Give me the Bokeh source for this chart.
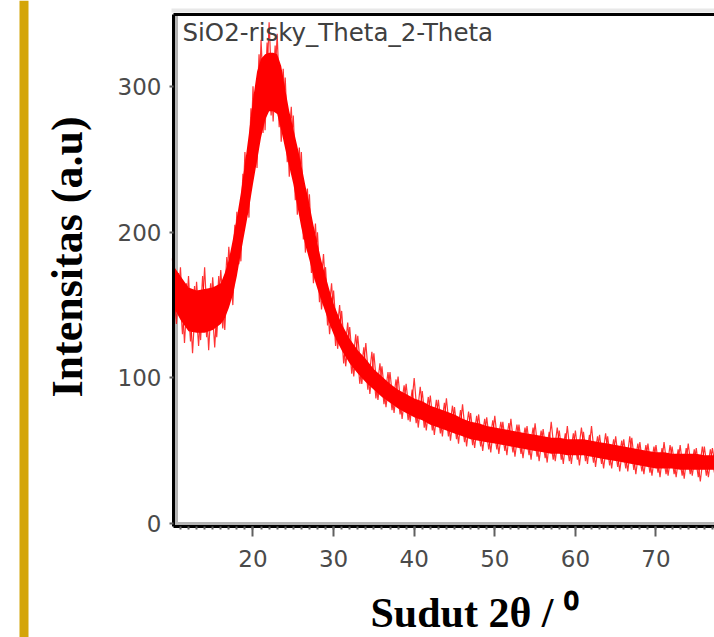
from bokeh.plotting import figure
from bokeh.models import (BoxAnnotation, Label, SingleIntervalTicker, Range1d, LinearAxis,
                          FixedTicker)
from bokeh.embed import file_html
from bokeh.resources import INLINE
import math

# ---- data ----
# solid core of the noisy band (2-theta in degrees, counts)
core_two_theta = [10, 11, 12, 13, 14, 15, 16, 16.5, 17, 17.5, 18, 18.5, 19, 19.5, 20, 20.5, 21,
                  21.5, 22, 22.5, 23, 23.5, 24, 24.5, 25, 25.5, 26, 26.5, 27, 27.5, 28, 28.5,
                  29, 29.5, 30, 31, 32, 33, 34, 35, 36, 37, 38, 39, 40, 41, 42, 43, 44, 45, 46,
                  47, 48, 49, 50, 51, 52, 53, 54, 55, 56, 57, 58, 59, 60, 61, 62, 63, 64, 65,
                  66, 67, 68, 69, 70, 71, 72, 73, 74, 75, 76, 77, 78]
core_lower = [150, 140, 132, 131, 131, 133, 137, 141, 148, 157, 170, 186, 201, 216, 233, 249, 265,
              277, 283, 283, 281, 270, 257, 245, 233, 218, 203, 191, 181, 170, 161, 153,
              145, 137, 130, 119, 110, 103, 97, 92, 87, 83, 79, 76, 73, 71, 68, 66, 64, 62, 60,
              58, 57, 56, 55, 54, 53, 52, 51, 50, 49, 48, 48, 47, 47, 47, 46, 45, 44, 43,
              42, 41, 40, 39, 38, 38, 38, 37, 37, 37, 37, 37, 37]
core_upper = [178, 170, 162, 160, 161, 162, 165, 172, 181, 195, 210, 227, 247, 268, 291, 310, 319,
              322, 323, 323, 322, 314, 298, 283, 271, 259, 246, 232, 219, 205, 192, 180,
              170, 160, 151, 137, 127, 119, 113, 106, 101, 96, 92, 89, 86, 84, 81, 79, 77, 75, 72,
              70, 69, 67, 66, 65, 64, 63, 62, 61, 60, 59, 59, 58, 58, 58, 57, 56, 55, 54,
              53, 52, 51, 50, 49, 49, 48, 48, 48, 48, 47, 47, 47]

# noise spikes of the scan, every 0.5 degree from 10.0 to 77.5
scan_counts_a = [182, 137, 176, 124, 170, 117, 166, 126, 176, 119, 169, 128, 174, 133,   # 10-16.5
                 190, 150, 214, 180, 255, 210, 300, 244, 332, 270, 344, 276, 336, 262,   # 17-23.5
                 306, 238, 280, 212, 255, 186, 226, 165, 200, 147, 176, 130, 160, 120,   # 24-30.5
                 146, 108, 135, 101, 129, 96, 124, 89, 117, 85, 108, 80, 104, 76,        # 31-37.5
                 101, 72, 96, 70, 100, 66, 91, 64, 88, 61, 85, 60, 86, 57,               # 38-44.5
                 80, 55, 82, 53, 76, 52, 75, 50, 73, 49, 74, 48, 70, 47,                 # 45-51.5
                 72, 46, 68, 45, 67, 44, 69, 43, 65, 42, 70, 43, 64, 41,                 # 52-58.5
                 67, 41, 64, 40, 63, 41, 67, 39, 61, 38, 60, 38, 60, 36,                 # 59-65.5
                 58, 36, 59, 34, 56, 34, 55, 33, 54, 32, 56, 33, 53, 32,                 # 66-72.5
                 54, 31, 55, 33, 52, 29, 53, 32, 52, 34]                                 # 73-77.5
scan_two_theta_a = [10 + 0.5 * i for i in range(len(scan_counts_a))]

# noise spikes of the scan, every 0.5 degree from 10.25 to 77.25
scan_counts_b = [140, 172, 130, 165, 125, 163, 122, 170, 128, 165, 121, 170, 134, 183,   # 10.25-16.75
                 155, 205, 178, 240, 212, 285, 250, 322, 268, 330, 280, 328, 272, 312,   # 17.25-23.75
                 248, 286, 222, 258, 195, 230, 172, 206, 152, 185, 136, 165, 122, 150,   # 24.25-30.75
                 110, 138, 103, 130, 96, 121, 92, 118, 86, 110, 82, 104, 78, 99,         # 31.25-37.75
                 75, 95, 71, 92, 69, 94, 66, 87, 64, 85, 62, 83, 60, 81,                 # 38.25-44.75
                 58, 78, 56, 77, 54, 74, 53, 72, 51, 71, 51, 70, 50, 69,                 # 45.25-51.75
                 49, 68, 48, 66, 47, 66, 46, 64, 45, 63, 44, 66, 44, 62,                 # 52.25-58.75
                 43, 62, 44, 66, 43, 61, 42, 60, 41, 62, 40, 58, 39, 57,                 # 59.25-65.75
                 38, 60, 37, 55, 36, 54, 35, 53, 35, 52, 34, 54, 34, 51,                 # 66.25-72.75
                 33, 52, 34, 51, 32, 53, 33, 51, 35]                                     # 73.25-77.25
scan_two_theta_b = [10.25 + 0.5 * i for i in range(len(scan_counts_b))]

x_ticks_interval = 10
y_ticks_interval = 100

title_text = "SiO2-risky_Theta_2-Theta"
y_label_text = "Intensitas (a.u)"
x_label_text = "Sudut 2\u03b8 / \u2070"

# visible plot box (data units)
X_LO, X_HI = 10.137, 77.26
Y_LO, Y_HI = -1.85, 349.3

W, H = 714, 637
p = figure(width=W, height=H, x_range=Range1d(-11.327, 77.26), y_range=Range1d(-77.98, 358.9),
           output_backend="svg", toolbar_location=None, x_axis_location=None, y_axis_location=None,
           min_border_left=0, min_border_right=0, min_border_top=0, min_border_bottom=0)
p.outline_line_color = None
p.xgrid.visible = False
p.ygrid.visible = False
p.background_fill_color = "white"
p.border_fill_color = "white"

# decorations under the data
p.add_layout(BoxAnnotation(left=19, right=28, bottom=0, top=H, left_units="screen",
                           right_units="screen", bottom_units="screen", top_units="screen",
                           fill_color="#d4a508", fill_alpha=1, line_color=None, level="underlay"))
p.add_layout(BoxAnnotation(left=174.5, right=177.5, bottom=111, top=623, left_units="screen",
                           right_units="screen", bottom_units="screen", top_units="screen",
                           fill_color="#b4b4b4", fill_alpha=1, line_color=None, level="underlay"))
p.add_layout(BoxAnnotation(left=173, right=W, bottom=112.5, top=115.5, left_units="screen",
                           right_units="screen", bottom_units="screen", top_units="screen",
                           fill_color="#b4b4b4", fill_alpha=1, line_color=None, level="underlay"))
p.add_layout(BoxAnnotation(left=171, right=W, bottom=625, top=629, left_units="screen",
                           right_units="screen", bottom_units="screen", top_units="screen",
                           fill_color="#e8e8e8", fill_alpha=1, line_color=None, level="underlay"))

# data
p.varea(x=core_two_theta, y1=core_lower, y2=core_upper, fill_color="#ff0000", fill_alpha=1.0)
p.line(scan_two_theta_a, scan_counts_a, line_color="#ff0000", line_width=1.2, line_alpha=0.8)
p.line(scan_two_theta_b, scan_counts_b, line_color="#ff0000", line_width=1.2, line_alpha=0.8)

# axes placed at the edges of the visible box
xa = LinearAxis(fixed_location=Y_LO, bounds=(X_LO, X_HI),
                ticker=SingleIntervalTicker(interval=x_ticks_interval, num_minor_ticks=10))
xa.axis_line_color = "black"
xa.axis_line_width = 3
xa.major_tick_in = 0
xa.major_tick_out = 10
xa.major_tick_line_color = "#606060"
xa.major_tick_line_width = 2
xa.minor_tick_in = 0
xa.minor_tick_out = 3
xa.minor_tick_line_color = "#606060"
xa.minor_tick_line_width = 2
xa.major_label_standoff = 14
xa.major_label_text_font = "DejaVu Sans"
xa.major_label_text_font_size = "23px"
xa.major_label_text_color = "#4a4a4a"
p.add_layout(xa, "below")

ya = LinearAxis(fixed_location=X_LO, bounds=(Y_LO, Y_HI),
                ticker=SingleIntervalTicker(interval=y_ticks_interval, num_minor_ticks=0))
ya.axis_line_color = "black"
ya.axis_line_width = 3
ya.major_tick_in = 0
ya.major_tick_out = 4
ya.major_tick_line_color = "#606060"
ya.major_tick_line_width = 2
ya.minor_tick_line_color = None
ya.major_label_standoff = 8
ya.major_label_text_font = "DejaVu Sans"
ya.major_label_text_font_size = "23px"
ya.major_label_text_color = "#4a4a4a"
p.add_layout(ya, "left")

top_axis = LinearAxis(fixed_location=Y_HI, bounds=(X_LO, X_HI), ticker=FixedTicker(ticks=[]))
top_axis.axis_line_color = "black"
top_axis.axis_line_width = 3
top_axis.major_tick_line_color = None
top_axis.minor_tick_line_color = None
top_axis.major_label_text_font_size = "0px"
p.add_layout(top_axis, "above")

# texts
p.add_layout(Label(x=182, y=605, x_units="screen", y_units="screen", text=title_text,
                   text_font="DejaVu Sans", text_font_size="24.5px", text_color="#404040",
                   text_baseline="alphabetic", text_align="left"))
p.add_layout(Label(x=67, y=380.5, x_units="screen", y_units="screen", text=y_label_text,
                   angle=math.pi / 2, text_font="Liberation Serif", text_font_style="bold",
                   text_font_size="44px", text_color="black",
                   text_baseline="alphabetic", text_align="center"))
p.add_layout(Label(x=370, y=25, x_units="screen", y_units="screen", text=x_label_text,
                   text_font="Liberation Serif", text_font_style="bold",
                   text_font_size="42px", text_color="black",
                   text_baseline="alphabetic", text_align="left"))

open("out.html", "w").write(file_html(p, INLINE))
